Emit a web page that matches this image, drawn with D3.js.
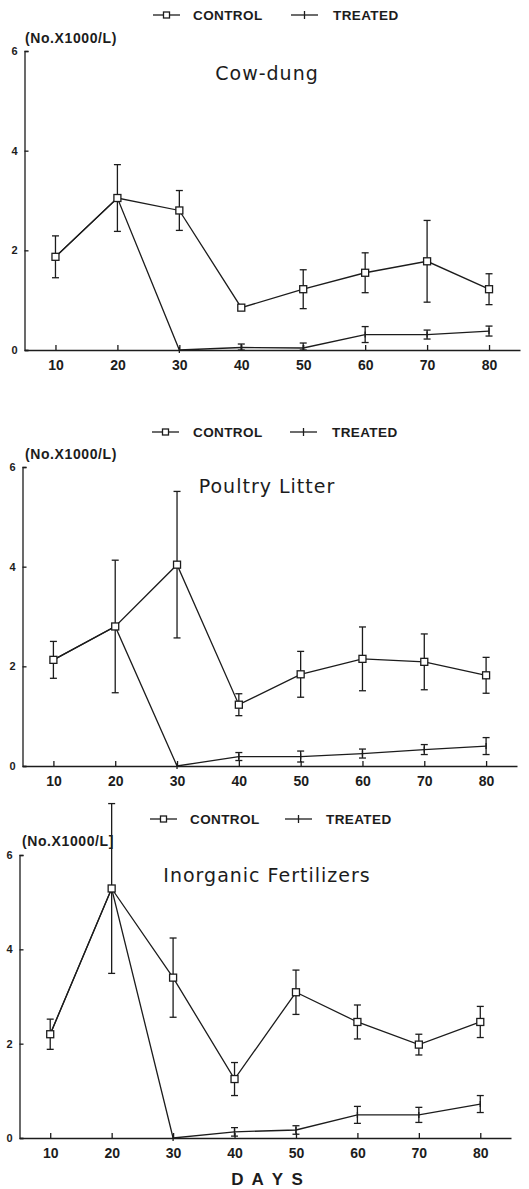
<!DOCTYPE html>
<html><head><meta charset="utf-8">
<script src="https://cdn.jsdelivr.net/npm/d3@7"></script>
<style>body{margin:0;background:#fff}svg{display:block}</style>
</head><body><svg id="c" width="529" height="1189"></svg>
<script>
// ---------- data ----------
const days = [10, 20, 30, 40, 50, 60, 70, 80];
const yTicks = [0, 2, 4, 6];
const titles = ["Cow-dung", "Poultry Litter", "Inorganic Fertilizers"];
const legendLabels = ["CONTROL", "TREATED"];
const unitLabels = ["(No.X1000/L)", "(No.X1000/L)", "(No.X1000/L]"];
const xAxisTitle = "D A Y S";

const cowControl     = [1.87, 3.05, 2.80, 0.85, 1.22, 1.55, 1.78, 1.22];
const cowControlSD   = [0.42, 0.67, 0.40, 0.00, 0.39, 0.40, 0.82, 0.31];
const cowTreated     = [1.87, 3.05, 0.00, 0.05, 0.04, 0.31, 0.31, 0.38];
const cowTreatedSD   = [null, null, 0.00, 0.07, 0.10, 0.16, 0.09, 0.10];

const poultryControl   = [2.13, 2.80, 4.04, 1.23, 1.84, 2.15, 2.09, 1.82];
const poultryControlSD = [0.37, 1.33, 1.47, 0.22, 0.46, 0.64, 0.56, 0.36];
const poultryTreated   = [2.13, 2.80, 0.00, 0.19, 0.19, 0.25, 0.33, 0.40];
const poultryTreatedSD = [null, null, 0.00, 0.08, 0.11, 0.09, 0.10, 0.17];

const inorgControl   = [2.20, 5.29, 3.40, 1.25, 3.09, 2.46, 1.98, 2.46];
const inorgControlSD = [0.32, 1.80, 0.84, 0.35, 0.47, 0.36, 0.22, 0.33];
const inorgTreated   = [2.20, 5.29, 0.00, 0.13, 0.17, 0.49, 0.49, 0.72];
const inorgTreatedSD = [null, null, 0.00, 0.09, 0.09, 0.18, 0.16, 0.18];

// ---------- layout (positions only) ----------
const layouts = [
  {xr: [24.5, 520], y0: 350, y6: 51, legY: 15, legX: [153, 193, 291, 333], unitX: 25, unitY: 43, titleY: 80},
  {xr: [22.5, 517], y0: 766, y6: 467, legY: 432, legX: [152, 193, 290, 332], unitX: 25, unitY: 459, titleY: 493},
  {xr: [19.5, 511], y0: 1138, y6: 855, legY: 819, legX: [150, 190, 285, 326], unitX: 22, unitY: 846, titleY: 882}
];
const panels = [
  {c: cowControl, cs: cowControlSD, t: cowTreated, ts: cowTreatedSD},
  {c: poultryControl, cs: poultryControlSD, t: poultryTreated, ts: poultryTreatedSD},
  {c: inorgControl, cs: inorgControlSD, t: inorgTreated, ts: inorgTreatedSD}
];

const ink = "#1c1c1c";
const svg = d3.select("#c");
svg.append("rect").attr("width", 529).attr("height", 1189).attr("fill", "#fff");
const FONT = "'Liberation Sans', Arial, sans-serif";

panels.forEach((p, i) => {
  const L = layouts[i];
  const g = svg.append("g");
  const x = d3.scaleLinear().domain([5, 85]).range(L.xr);
  const y = d3.scaleLinear().domain([0, 6]).range([L.y0, L.y6]);

  // axes
  const xa = g.append("g").attr("transform", `translate(0,${y(0)})`)
    .call(d3.axisBottom(x).tickValues(days).tickFormat(d3.format("d")).tickSize(-5).tickSizeOuter(0).tickPadding(10));
  const ya = g.append("g").attr("transform", `translate(${x(5)},0)`)
    .call(d3.axisLeft(y).tickValues(yTicks).tickFormat(d3.format("d")).tickSize(-4).tickSizeOuter(-4).tickPadding(7));
  [xa, ya].forEach(a => {
    a.selectAll("path,line").attr("stroke", ink).attr("stroke-width", 1.3);
    a.selectAll("text").attr("fill", ink).attr("font-family", FONT).attr("font-weight", "bold");
  });
  xa.selectAll("text").attr("font-size", 14);
  ya.selectAll("text").attr("font-size", 11);

  // legend
  const lg = g.append("g").attr("stroke", ink).attr("stroke-width", 1.3);
  lg.append("line").attr("x1", L.legX[0]).attr("x2", L.legX[0] + 27).attr("y1", L.legY).attr("y2", L.legY);
  lg.append("rect").attr("x", L.legX[0] + 10.5).attr("y", L.legY - 3).attr("width", 6).attr("height", 6).attr("fill", "#fff");
  lg.append("line").attr("x1", L.legX[2]).attr("x2", L.legX[2] + 27).attr("y1", L.legY).attr("y2", L.legY);
  lg.append("line").attr("x1", L.legX[2] + 13.5).attr("x2", L.legX[2] + 13.5).attr("y1", L.legY - 4).attr("y2", L.legY + 4);
  [[L.legX[1], legendLabels[0]], [L.legX[3], legendLabels[1]]].forEach(([lx, txt]) => {
    g.append("text").attr("x", lx).attr("y", L.legY + 5).text(txt)
      .attr("font-family", FONT).attr("font-weight", "bold").attr("font-size", 13.5)
      .attr("letter-spacing", 0.4).attr("fill", ink);
  });

  // unit label & title
  g.append("text").attr("x", L.unitX).attr("y", L.unitY).text(unitLabels[i])
    .attr("font-family", FONT).attr("font-weight", "bold").attr("font-size", 14)
    .attr("letter-spacing", 0.6).attr("fill", ink);
  g.append("text").attr("x", 267).attr("y", L.titleY).attr("text-anchor", "middle").text(titles[i])
    .attr("font-family", "'DejaVu Sans', sans-serif").attr("font-size", 19)
    .attr("letter-spacing", 1).attr("fill", ink);

  const ctrl = days.map((d, k) => ({day: d, v: p.c[k], sd: p.cs[k]}));
  const trt = days.map((d, k) => ({day: d, v: p.t[k], sd: p.ts[k]}));
  const line = d3.line().x(d => x(d.day)).y(d => y(d.v));

  const drawErr = (data) => {
    const eg = g.append("g").attr("stroke", ink).attr("stroke-width", 1.3);
    data.filter(d => d.sd).forEach(d => {
      const top = y(d.v + d.sd), bot = y(Math.max(0, d.v - d.sd)), cx = x(d.day);
      eg.append("line").attr("x1", cx).attr("x2", cx).attr("y1", top).attr("y2", bot);
      eg.append("line").attr("x1", cx - 3.5).attr("x2", cx + 3.5).attr("y1", top).attr("y2", top);
      eg.append("line").attr("x1", cx - 3.5).attr("x2", cx + 3.5).attr("y1", bot).attr("y2", bot);
    });
  };

  // treated
  g.append("path").datum(trt).attr("d", line).attr("fill", "none").attr("stroke", ink).attr("stroke-width", 1.3);
  drawErr(trt);
  g.append("g").selectAll("line").data(trt).join("line")
    .attr("x1", d => x(d.day)).attr("x2", d => x(d.day))
    .attr("y1", d => y(d.v) - 3).attr("y2", d => y(d.v) + 3)
    .attr("stroke", ink).attr("stroke-width", 1.3);

  // control
  g.append("path").datum(ctrl).attr("d", line).attr("fill", "none").attr("stroke", ink).attr("stroke-width", 1.3);
  drawErr(ctrl);
  g.append("g").selectAll("rect").data(ctrl).join("rect")
    .attr("x", d => x(d.day) - 3.5).attr("y", d => y(d.v) - 3.5)
    .attr("width", 7).attr("height", 7).attr("fill", "#fff")
    .attr("stroke", ink).attr("stroke-width", 1.3);
});

svg.append("text").attr("x", 268).attr("y", 1185).attr("text-anchor", "middle").text(xAxisTitle)
  .attr("font-family", FONT).attr("font-weight", "bold").attr("font-size", 17)
  .attr("letter-spacing", 2).attr("fill", ink);
</script>
</body></html>
